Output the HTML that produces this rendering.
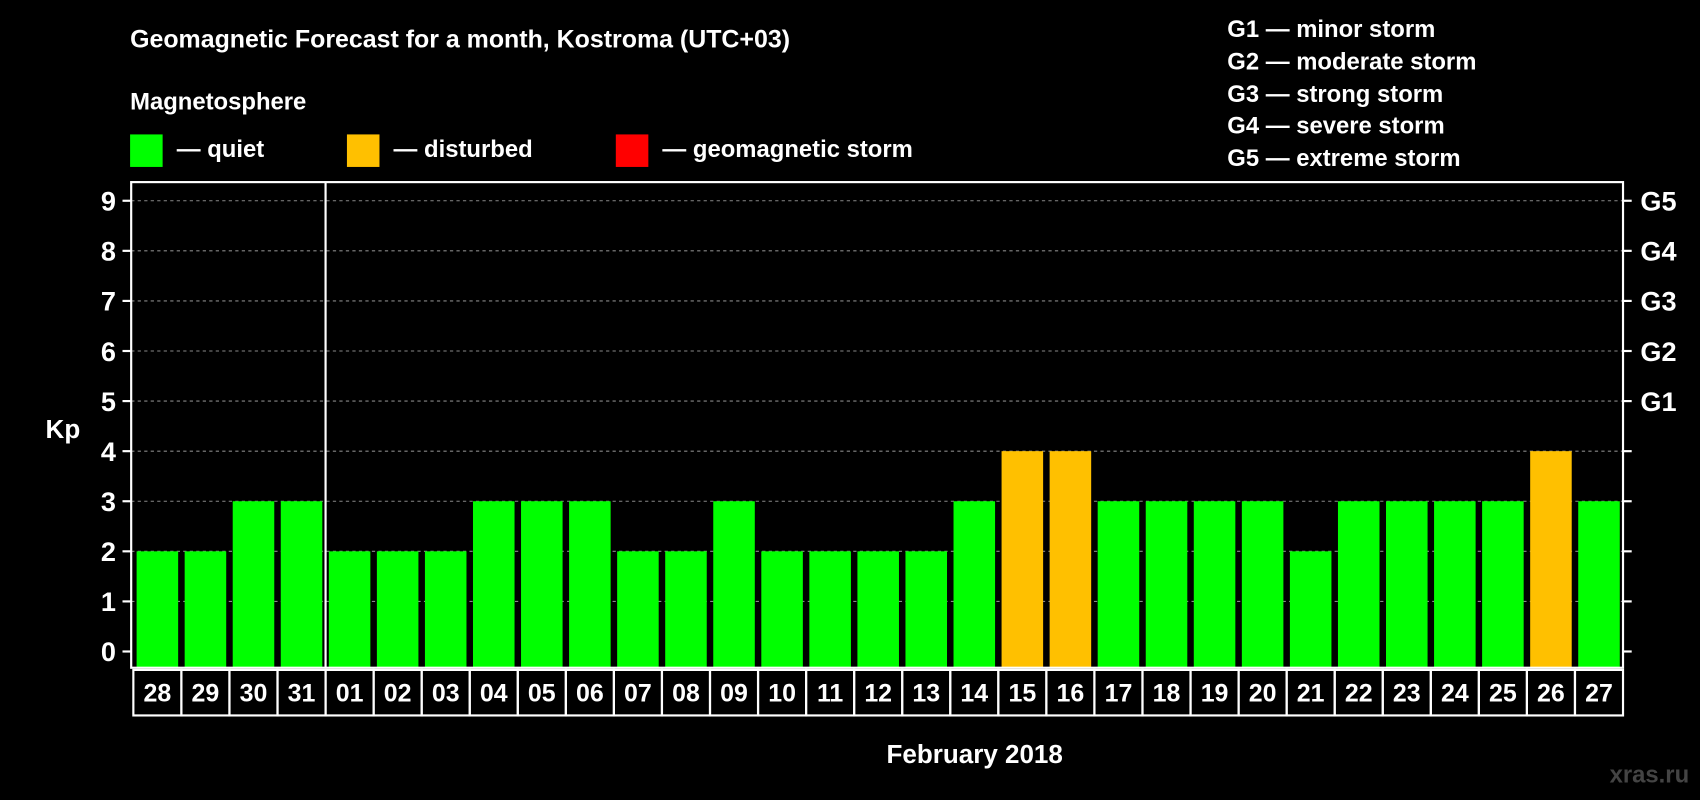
<!DOCTYPE html>
<html><head><meta charset="utf-8"><style>
html,body{margin:0;padding:0;background:#000;}
svg{display:block;font-family:"Liberation Sans",sans-serif;font-weight:bold;}
</style></head><body>
<svg id="chart" width="1700" height="800" viewBox="0 0 1568 738" preserveAspectRatio="none">
<rect x="0" y="0" width="1568" height="738" fill="#000"/>
<text x="120" y="44" fill="#fff" font-size="23">Geomagnetic Forecast for a month, Kostroma (UTC+03)</text>
<text x="120" y="101" fill="#fff" font-size="22">Magnetosphere</text>
<g><rect x="120" y="124" width="30" height="30" fill="#00ff00"/><text x="163" y="145" fill="#fff" font-size="22">— quiet</text></g>
<g><rect x="320" y="124" width="30" height="30" fill="#ffc000"/><text x="363" y="145" fill="#fff" font-size="22">— disturbed</text></g>
<g><rect x="568" y="124" width="30" height="30" fill="#ff0000"/><text x="611" y="145" fill="#fff" font-size="22">— geomagnetic storm</text></g>
<g fill="#fff" font-size="22">
<text x="1132" y="34">G1 — minor storm</text><text x="1132" y="64">G2 — moderate storm</text><text x="1132" y="94">G3 — strong storm</text><text x="1132" y="123">G4 — severe storm</text><text x="1132" y="153">G5 — extreme storm</text>
</g>
<text x="58" y="404" fill="#fff" font-size="24" text-anchor="middle">Kp</text>
<text x="899" y="704" fill="#fff" font-size="24" text-anchor="middle">February 2018</text>
<text x="1558" y="722" fill="#444" font-size="22" text-anchor="end">xras.ru</text>
<g id="plot"></g>
</svg>
<script>
const categories=["28","29","30","31","01","02","03","04","05","06","07","08","09","10","11","12","13","14","15","16","17","18","19","20","21","22","23","24","25","26","27"];
const kpValues=[2,2,3,3,2,2,2,3,3,3,2,2,3,2,2,2,2,3,4,4,3,3,3,3,2,3,3,3,3,4,3];
const yTicks=[0,1,2,3,4,5,6,7,8,9];
const gLabels=["","","","","","G1","G2","G3","G4","G5"];
const NS="http://www.w3.org/2000/svg";
const g=document.getElementById('plot');
const L=121,R=1497,T=168,B=616,y0=601,unit=46.2;
const band=(R-L-2)/categories.length;
const yS=v=>y0-v*unit;
const xS=i=>L+1+i*band;
function mk(t,a){const e=document.createElementNS(NS,t);for(const k in a)e.setAttribute(k,a[k]);g.appendChild(e);return e;}
yTicks.forEach((v,i)=>{
 const y=yS(v);
 if(v>0){const l=mk('line',{x1:L,x2:R,y1:y,y2:y,stroke:'#888','stroke-dasharray':'3,3','stroke-width':1});
 
 }
 const tl=mk('line',{x1:L-8,x2:L,y1:y,y2:y,stroke:'#fff','stroke-width':2});
 
 
 const tr=mk('line',{x1:R,x2:R+8,y1:y,y2:y,stroke:'#fff','stroke-width':2});
 
 
 const t=mk('text',{x:L-14,y:y+9,fill:'#fff','font-size':25,'text-anchor':'end'});t.textContent=v;
 
 
 if(gLabels[i]){const s=mk('text',{x:R+16,y:y+9,fill:'#fff','font-size':25});s.textContent=gLabels[i];
 
 }
});
categories.forEach((c,i)=>{
 const v=kpValues[i];const x=xS(i);
 const col=v>=5?'#ff0000':(v>=4?'#ffc000':'#00ff00');
 const r=mk('rect',{x:x+4,y:yS(v),width:band-6,height:B-yS(v),fill:col});
 
 
 const cell=mk('rect',{x:x+1,y:B+2,width:band,height:42,fill:'none',stroke:'#fff','stroke-width':2});
 
 
 const t=mk('text',{x:x+band/2+1,y:B+31,fill:'#fff','font-size':23,'text-anchor':'middle'});t.textContent=c;
 
 
});
const sep=mk('line',{x1:xS(4)+1,x2:xS(4)+1,y1:T,y2:B,stroke:'#fff','stroke-width':2});


const fr=mk('rect',{x:L,y:T,width:R-L,height:B-T,fill:'none',stroke:'#fff','stroke-width':2});


</script>
</body></html>
